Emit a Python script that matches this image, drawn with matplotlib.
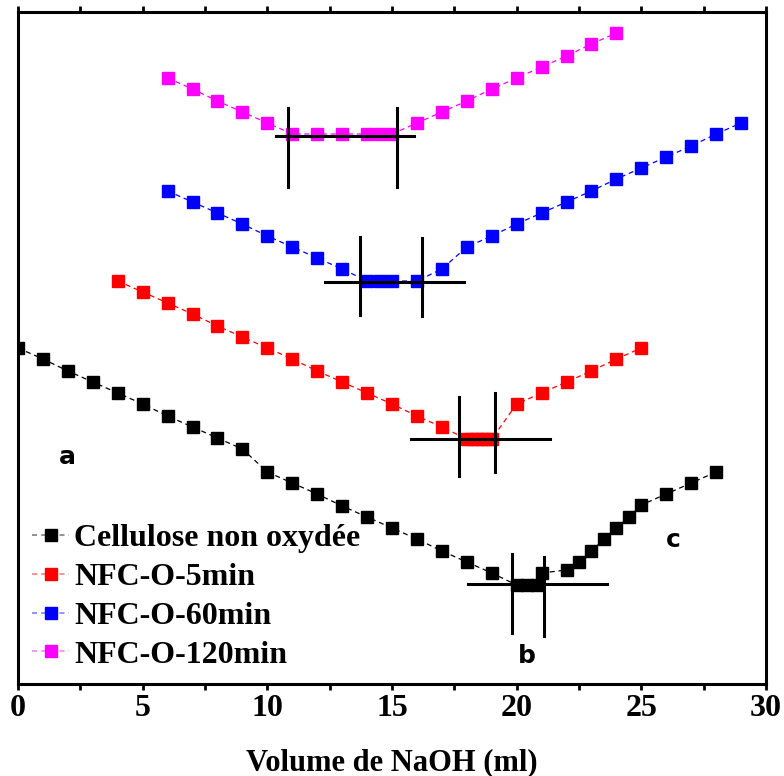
import matplotlib
matplotlib.use("Agg")
import matplotlib.pyplot as plt
from matplotlib.lines import Line2D

# ---- data (arbitrary conductivity-like units) ----
x_cell = [0, 1, 2, 3, 4, 5, 6, 7, 8, 9, 10, 11, 12, 13, 14, 15, 16, 17, 18, 19,
          20, 20.4, 20.8, 21, 22, 22.5, 23, 23.5, 24, 24.5, 25, 26, 27, 28]
y_cell = [336, 325, 313, 302, 291, 280, 268, 257, 246, 235, 212, 201, 190, 178, 167,
          156, 145, 133, 122, 111, 99, 99, 99, 111, 114, 122, 133, 145, 156, 167,
          179, 190, 201, 212]

x_5 = [4, 5, 6, 7, 8, 9, 10, 11, 12, 13, 14, 15, 16, 17,
       18, 18.2, 18.4, 18.6, 18.8, 19, 20, 21, 22, 23, 24, 25]
y_5 = [403, 392, 381, 370, 358, 347, 336, 325, 313, 302, 291, 280, 268, 257,
       245, 245, 245, 245, 245, 245, 280, 291, 302, 313, 325, 336]

x_60 = [6, 7, 8, 9, 10, 11, 12, 13, 14, 14.5, 15, 16, 17, 18, 19, 20, 21, 22, 23,
        24, 25, 26, 27, 28, 29]
y_60 = [493, 482, 471, 460, 448, 437, 426, 415, 403, 403, 403, 403, 415, 437, 448,
        460, 471, 482, 493, 505, 516, 527, 538, 550, 561]

x_120 = [6, 7, 8, 9, 10, 11, 12, 13, 14, 14.5, 15, 16, 17, 18, 19, 20, 21, 22, 23, 24]
y_120 = [606, 595, 583, 572, 561, 550, 550, 550, 550, 550, 550, 561, 572, 583, 595,
         606, 617, 628, 640, 651]

labels = ["Cellulose non oxydée", "NFC-O-5min", "NFC-O-60min", "NFC-O-120min"]
colors = ["#000000", "#ff0000", "#0000ff", "#ff00ff"]

# construction lines: horizontal (x0, x1, y), vertical (x, y0, y1)
h_lines = [(18.04, 23.61, 100), (15.75, 21.32, 245), (12.32, 17.88, 402), (10.34, 15.9, 548)]
v_lines = [(19.81, 51, 130), (21.08, 48, 127),
           (17.68, 208, 287), (19.12, 212, 291),
           (13.72, 369, 447), (16.21, 368, 446),
           (10.82, 497, 576), (15.22, 497, 576)]

annotations = [("a", 2.0, 227), ("b", 20.4, 28), ("c", 26.3, 144)]

# ---- figure ----
fig = plt.figure(figsize=(7.84, 7.76), dpi=100)
ax = fig.add_axes([18 / 784, 92 / 776, 748 / 784, 672 / 776])

series = [(x_cell, y_cell), (x_5, y_5), (x_60, y_60), (x_120, y_120)]
for (xs, ys), c, lab in zip(series, colors, labels):
    ax.plot(xs, ys, color=c, lw=0.9, ls=(0, (4, 3)), marker="s", ms=8,
            mec=c, mfc=c, label=lab, zorder=3)

for x0, x1, y in h_lines:
    ax.plot([x0, x1], [y, y], color="black", lw=2.2, zorder=4)
for x, y0, y1 in v_lines:
    ax.plot([x, x], [y0, y1], color="black", lw=2.2, zorder=4)

for t, x, y in annotations:
    ax.text(x, y, t, fontsize=18, fontweight="bold", family="DejaVu Sans",
            ha="center", va="center")

ax.set_xlim(0, 30)
ax.set_ylim(0, 672)
ax.set_xticks([0, 5, 10, 15, 20, 25, 30])
ax.set_xticks([2.5, 7.5, 12.5, 17.5, 22.5, 27.5], minor=True)
ax.set_yticks([])
ax.tick_params(axis="x", which="both", direction="out", length=4, width=2,
               top=True, labeltop=False, pad=3)
for lab in ax.get_xticklabels():
    lab.set_fontfamily("Liberation Serif")
    lab.set_fontweight("bold")
    lab.set_fontsize(23)
for s in ax.spines.values():
    s.set_linewidth(2.2)

ax.set_xlabel("Volume de NaOH (ml)", fontsize=22, fontweight="bold",
              family="Liberation Serif", labelpad=18)

handles = []
for c in colors:
    handles.append(Line2D([0], [0], color=c, lw=1.2, ls=(0, (3, 2.5)), marker="s",
                          ms=8, mec=c, mfc=c))
leg = ax.legend(handles, labels, loc="lower left", bbox_to_anchor=(0.0, 0.0),
                frameon=False, handlelength=1.15, handletextpad=0.15,
                labelspacing=0.3, borderaxespad=0.25, borderpad=0.2,
                prop={"family": "Liberation Serif", "weight": "bold", "size": 23})
for line, c in zip(leg.get_lines(), colors):
    line.set_color(matplotlib.colors.to_rgba(c, 0.5))
    line.set_markerfacecolor(c)
    line.set_markeredgecolor(c)

fig.savefig("out.png", dpi=100)
